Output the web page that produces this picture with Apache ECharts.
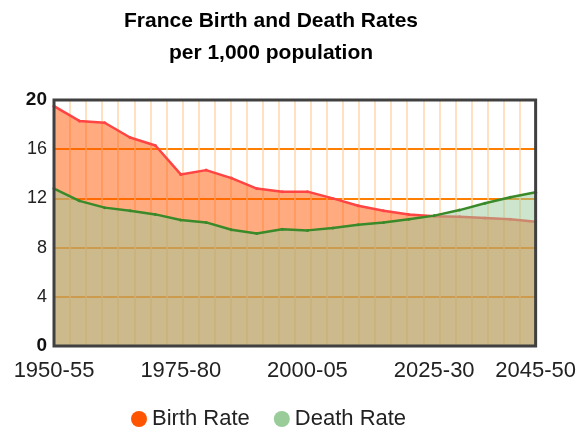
<!DOCTYPE html>
<html>
<head>
<meta charset="utf-8">
<script src="https://cdn.jsdelivr.net/npm/echarts@6/dist/echarts.min.js"></script>
<style>
  html, body { margin: 0; padding: 0; background: #fff; }
  #chart { width: 579px; height: 432px; }
</style>
</head>
<body>
<div id="chart"></div>
<script>
// 5-year periods
const periods = [
  '1950-55', '1955-60', '1960-65', '1965-70', '1970-75',
  '1975-80', '1980-85', '1985-90', '1990-95', '1995-00',
  '2000-05', '2005-10', '2010-15', '2015-20', '2020-25',
  '2025-30', '2030-35', '2035-40', '2040-45', '2045-50'
]
// per 1,000 population
const birthRate = [19.5, 18.3, 18.15, 16.95, 16.3, 13.95, 14.3, 13.65, 12.8, 12.55,
  12.55, 12.0, 11.4, 11.0, 10.7, 10.55, 10.5, 10.4, 10.3, 10.1]
const deathRate = [12.8, 11.8, 11.25, 11.0, 10.7, 10.25, 10.05, 9.45, 9.15, 9.5,
  9.4, 9.6, 9.85, 10.05, 10.3, 10.6, 11.05, 11.6, 12.1, 12.5]
// which period labels are shown
const labelIndices = [0, 5, 10, 15, 19]

const font = 'Liberation Sans, Arial, sans-serif'

const chart = echarts.init(document.getElementById('chart'))

const option = {
  animation: false,
  title: {
    text: 'France Birth and Death Rates\nper 1,000 population',
    left: 266,
    top: 0,
    textAlign: 'center',
    textStyle: {
      fontFamily: font,
      fontSize: 21,
      fontWeight: 'bold',
      color: '#000',
      lineHeight: 32
    }
  },
  legend: {
    left: 126,
    top: 403,
    itemGap: 24,
    itemWidth: 16,
    itemHeight: 16,
    icon: 'circle',
    textStyle: { fontFamily: font, fontSize: 22, color: '#222' },
    data: [
      { name: 'Birth Rate', itemStyle: { color: '#ff5500' } },
      { name: 'Death Rate', itemStyle: { color: '#99cc99' } }
    ]
  },
  grid: {
    left: 54,
    right: 42,
    top: 100,
    bottom: 86,
    show: true,
    z: 10,
    backgroundColor: 'transparent',
    borderColor: '#404040',
    borderWidth: 3
  },
  xAxis: [
    {
      type: 'category',
      data: periods,
      boundaryGap: false,
      axisLine: { show: false },
      axisTick: { show: false },
      splitLine: { show: false },
      axisLabel: {
        interval: (i) => labelIndices.includes(i),
        margin: 14,
        fontFamily: font,
        fontSize: 22,
        color: '#222'
      }
    },
    {
      // minor vertical grid lines
      type: 'value',
      min: 0,
      max: 30,
      interval: 1,
      axisLine: { show: false },
      axisTick: { show: false },
      axisLabel: { show: false },
      splitLine: { show: true, lineStyle: { color: '#ffd6ad', width: 1.5 } }
    }
  ],
  yAxis: {
    type: 'value',
    min: 0,
    max: 20,
    interval: 4,
    axisLine: { show: false },
    axisTick: { show: false },
    splitLine: { show: true, lineStyle: { color: '#ff8000', width: 2 } },
    axisLabel: {
      margin: 7,
      fontFamily: font,
      fontSize: 18,
      color: '#222',
      formatter: (v) => (v === 0 || v === 20 ? '{b|' + v + '}' : String(v)),
      rich: {
        b: { fontFamily: font, fontSize: 19, fontWeight: 'bold', color: '#111' }
      }
    }
  },
  series: [
    {
      name: 'Birth Rate',
      type: 'line',
      data: birthRate,
      color: '#ff5500',
      symbol: 'circle',
      symbolSize: 3,
      itemStyle: { color: '#ff4444' },
      lineStyle: { color: '#ff4444', width: 2.5 },
      areaStyle: { color: '#ff5500', opacity: 0.5 },
      z: 2
    },
    {
      name: 'Death Rate',
      type: 'line',
      data: deathRate,
      color: '#99cc99',
      symbol: 'circle',
      symbolSize: 3,
      itemStyle: { color: '#3a8a2a' },
      lineStyle: { color: '#3a8a2a', width: 2.5 },
      areaStyle: { color: '#99cc99', opacity: 0.5 },
      z: 3
    }
  ]
}

chart.setOption(option)
</script>
</body>
</html>
